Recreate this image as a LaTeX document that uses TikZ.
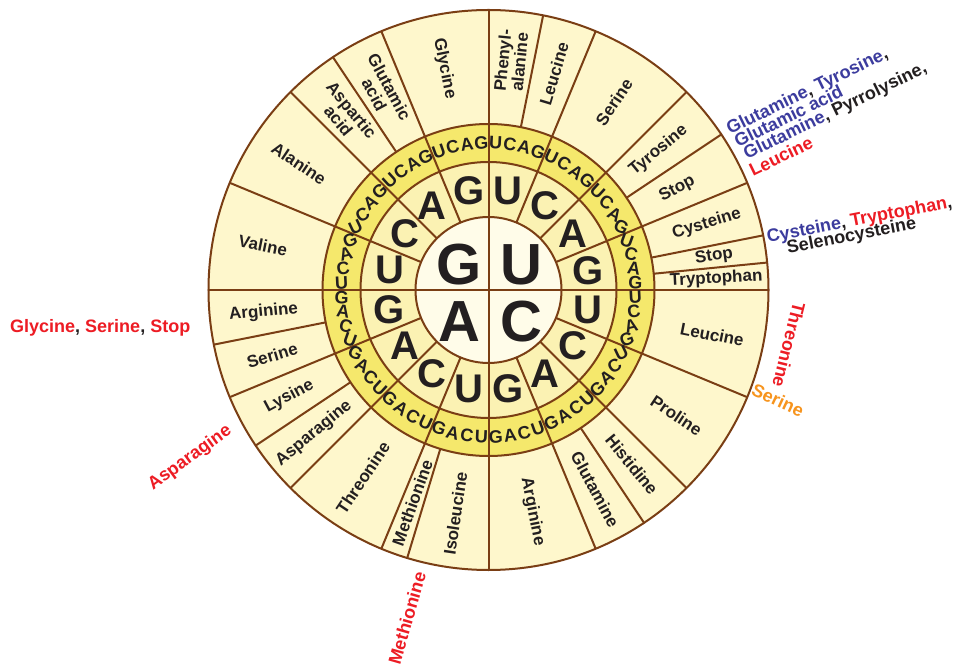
\documentclass[tikz,border=0pt]{standalone}
\usepackage{fontspec}
\setmainfont{Liberation Sans}
\definecolor{lineb}{HTML}{7A3E14}
\definecolor{outerc}{HTML}{FEF7CC}
\definecolor{bandc}{HTML}{F5E86C}
\definecolor{ringc}{HTML}{FBF2B3}
\definecolor{centc}{HTML}{FFFCE9}
\definecolor{txt}{HTML}{231F20}
\definecolor{blu}{HTML}{3C3C9E}
\definecolor{rd}{HTML}{ED1C24}
\definecolor{org}{HTML}{F7941D}
\newcommand\aminolab[4][226]{%
  \pgfmathsetmacro\rotv{(#2>90 || #2<-90) ? #2-180 : #2}%
  \node[amino, rotate=\rotv] (#3) at (#2:#1) {#4};}
\begin{document}
\begin{tikzpicture}[x=1pt,y=1pt,
  wl/.style={draw=lineb,line width=2pt},
  amino/.style={font=\fontsize{17}{17}\selectfont\bfseries, text=txt, align=center, inner sep=0pt},
  ann/.style={font=\fontsize{18}{16}\selectfont\bfseries, text=txt, inner sep=0pt},
  ltbig/.style={font=\fontsize{58}{58}\selectfont\bfseries, text=txt, inner sep=0pt},
  ltmid/.style={font=\fontsize{40}{40}\selectfont\bfseries, text=txt, inner sep=0pt},
  ltsmall/.style={font=\fontsize{18}{18}\selectfont\bfseries, text=txt, inner sep=0pt}]
\useasboundingbox (-488.5,-378) rectangle (471.5,290);
\fill[white] (-488.5,-378) rectangle (471.5,290);
% rings
\fill[outerc] (0,0) circle (280);
\fill[bandc] (0,0) circle (166);
\fill[ringc] (0,0) circle (128);
\fill[centc] (0,0) circle (73);
% lines
\foreach \a in {0,22.5,...,337.5} \draw[wl] (\a:73) -- (\a:280);
\foreach \a in {0,90,180,270} \draw[wl] (0,0) -- (\a:73);
\foreach \a in {78.75,33.75,11.25,5.625,-56.25,-106.875,-146.25,-168.75,123.75}
  \draw[wl] (\a:166) -- (\a:280);
\foreach \r in {73,128,166,280} \draw[wl] (0,0) circle (\r);
% first letters
\node[ltbig] (cG) at (-29,25) {G};
\node[ltbig] (cU) at (33,25) {U};
\node[ltbig] (cA) at (-29,-32) {A};
\node[ltbig] (cC) at (33,-32) {C};
% second letters
\foreach \k in {0,...,15}{
  \pgfmathsetmacro\ang{90-(\k+0.5)*22.5}
  \pgfmathtruncatemacro\m{mod(\k,4)}
  \node[ltmid] (s\k) at (\ang:101) {\ifcase\m U\or C\or A\or G\fi};
}
% third letters
\foreach \k in {0,...,63}{
  \pgfmathsetmacro\ang{90-(\k+0.5)*5.625}
  \pgfmathsetmacro\phv{mod(\ang+720,360)}
  \pgfmathsetmacro\rotv{\phv<45 ? -\phv : (\phv<135 ? \phv-90 : (\phv<225 ? 180-\phv : (\phv<315 ? \phv-270 : 360-\phv)))}
  \pgfmathtruncatemacro\m{mod(\k,4)}
  \node[ltsmall, rotate=\rotv] (t\k) at (\ang:147) {\ifcase\m U\or C\or A\or G\fi};
}
% amino acids
\aminolab[230]{84.375}{aPhe}{Phenyl-\\alanine}
\aminolab{73.125}{aLeuA}{Leucine}
\aminolab{56.25}{aSerA}{Serine}
\aminolab[220]{39.375}{aTyr}{Tyrosine}
\aminolab[214]{28.125}{aStopA}{Stop}
\aminolab[228]{16.875}{aCys}{Cysteine}
\aminolab[228]{8.4375}{aStopB}{Stop}
\aminolab[228]{2.8125}{aTrp}{Tryptophan}
\aminolab[228]{-11.25}{aLeuB}{Leucine}
\aminolab{-33.75}{aPro}{Proline}
\aminolab{-50.625}{aHis}{Histidine}
\aminolab{-61.875}{aGln}{Glutamine}
\aminolab{-78.75}{aArgA}{Arginine}
\aminolab{-98.4375}{aIle}{Isoleucine}
\aminolab{-109.6875}{aMet}{Methionine}
\aminolab{-123.75}{aThr}{Threonine}
\aminolab{-140.625}{aAsn}{Asparagine}
\aminolab{-151.875}{aLys}{Lysine}
\aminolab{-163.125}{aSerB}{Serine}
\aminolab{-174.375}{aArgB}{Arginine}
\aminolab[230]{168.75}{aVal}{Valine}
\aminolab[228]{146.25}{aAla}{Alanine}
\aminolab{129.375}{aAsp}{Aspartic\\acid}
\aminolab{118.125}{aGlu}{Glutamic\\acid}
\aminolab{101.25}{aGly}{Glycine}
% annotations
\node[ann, anchor=base west, rotate=26] (an1) at (241.5,155) {\textcolor{blu}{Glutamine}, \textcolor{blu}{Tyrosine},};
\node[ann, anchor=base west, rotate=26] (an2) at (249.5,142) {\textcolor{blu}{Glutamic acid}};
\node[ann, anchor=base west, rotate=26] (an3) at (258.5,130) {\textcolor{blu}{Glutamine}, Pyrrolysine,};
\node[ann, anchor=base west, rotate=26, text=rd] (an4) at (264.5,113) {Leucine};
\node[ann, anchor=base west, rotate=11] (an5) at (279.5,47) {\textcolor{blu}{Cysteine}, \textcolor{rd}{Tryptophan},};
\node[ann, anchor=base west, rotate=11] (an6) at (299.5,36) {Selenocysteine};
\node[ann, anchor=base west] (an7) at (-478.5,-43) {\textcolor{rd}{Glycine}, \textcolor{rd}{Serine}, \textcolor{rd}{Stop}};
\node[ann, rotate=36, text=rd] (an8) at (-298.5,-168) {Asparagine};
\node[ann, rotate=74, text=rd] (an9) at (-81.5,-328) {Methionine};
\node[ann, rotate=-104, text=rd] (an10) at (300.5,-55) {Threonine};
\node[ann, rotate=-25, text=org] (an11) at (289.5,-110) {Serine};
\end{tikzpicture}
\end{document}
